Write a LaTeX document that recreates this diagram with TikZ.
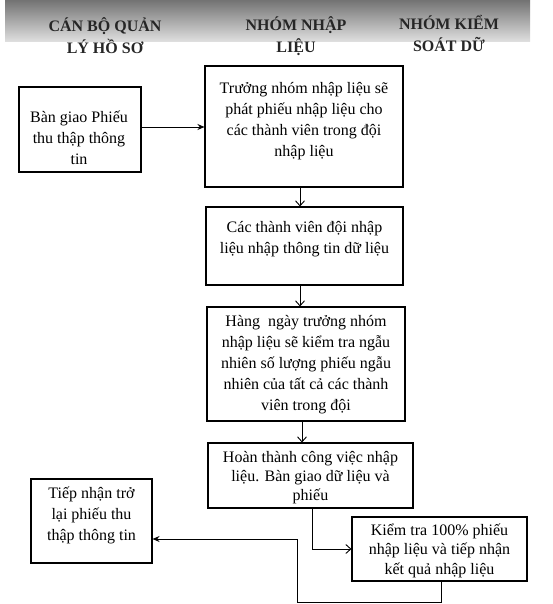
\documentclass[tikz,border=0pt]{standalone}
\usepackage{fontspec}
\setmainfont{Liberation Serif}
\usetikzlibrary{arrows.meta}
\begin{document}
\begin{tikzpicture}[x=1pt,y=-1pt,
  box/.style={draw=black, line width=1.1pt, rectangle, inner sep=0pt},
  txt/.style={align=center, inner sep=0pt, font=\fontsize{16}{21}\selectfont},
  head/.style={align=center, inner sep=0pt, font=\fontsize{16}{22}\selectfont\bfseries, text=black!85},
  openarrow/.style={line width=0.9pt, -{Straight Barb[length=5pt,width=9pt]}},
  fillarrow/.style={line width=0.9pt, -{Stealth[length=7pt,width=6pt]}}]
\useasboundingbox (0,0) rectangle (553,604);
% header band
\shade[top color=black!55, middle color=black!40, bottom color=black!12] (5,0) rectangle (530,42);
\node[head] (h1) at (105,36) {CÁN BỘ QUẢN\\LÝ HỒ SƠ};
\node[head] (h2) at (296,36) {NHÓM NHẬP\\LIỆU};
\node[head] (h3) at (449,33.5) {NHÓM KIỂM\\SOÁT DỮ};
% boxes
\node[box, minimum width=122pt, minimum height=85pt] (a) at (80,129.5) {};
\node[txt] (at) at (79,137.5) {Bàn giao Phiếu\\thu thập thông\\tin};
\node[box, minimum width=198pt, minimum height=121pt] (b) at (304,126.5) {};
\node[txt] (bt) at (304,121.5) {Trưởng nhóm nhập liệu sẽ\\phát phiếu nhập liệu cho\\các thành viên trong đội\\nhập liệu};
\node[box, minimum width=197pt, minimum height=78pt] (c) at (304.5,246) {};
\node[txt] (ct) at (304.5,239.5) {Các thành viên đội nhập\\liệu nhập thông tin dữ liệu};
\node[box, minimum width=198pt, minimum height=114pt] (d) at (306,364) {};
\node[txt] (dt) at (306,365) {Hàng\ \ ngày trưởng nhóm\\nhập liệu sẽ kiểm tra ngẫu\\nhiên số lượng phiếu ngẫu\\nhiên của tất cả các thành\\viên trong đội};
\node[box, minimum width=205pt, minimum height=65pt] (e) at (310.5,475.5) {};
\node[txt, font=\fontsize{16}{19}\selectfont] (et) at (310.5,478) {Hoàn thành công việc nhập\\liệu. Bàn giao dữ liệu và\\phiếu};
\node[box, minimum width=121pt, minimum height=84pt] (f) at (91.5,521) {};
\node[txt] (ft) at (91.5,515.5) {Tiếp nhận trở\\lại phiếu thu\\thập thông tin};
\node[box, minimum width=175pt, minimum height=64pt] (g) at (439.5,549) {};
\node[txt, font=\fontsize{16}{19.5}\selectfont] (gt) at (439.5,550.5) {Kiểm tra 100\% phiếu\\nhập liệu và tiếp nhận\\kết quả nhập liệu};
% connectors
\draw[fillarrow] ([yshift=2.5pt]a.east) -- ([yshift=2.5pt]a.east -| b.west);
\draw[openarrow] ([xshift=-4pt]b.south) -- ([xshift=-4pt]b.south |- c.north);
\draw[openarrow] ([xshift=-4.5pt]c.south) -- ([xshift=-4.5pt]c.south |- d.north);
\draw[openarrow] ([xshift=-4pt]d.south) -- ([xshift=-4pt]d.south |- e.north);
\draw[openarrow] ([xshift=1.5pt]e.south) |- (g.west);
\coordinate (bend) at (297,602);
\draw[fillarrow] ([xshift=1.5pt]g.south) |- (bend) |- ([yshift=-18pt]f.east);
\end{tikzpicture}
\end{document}
